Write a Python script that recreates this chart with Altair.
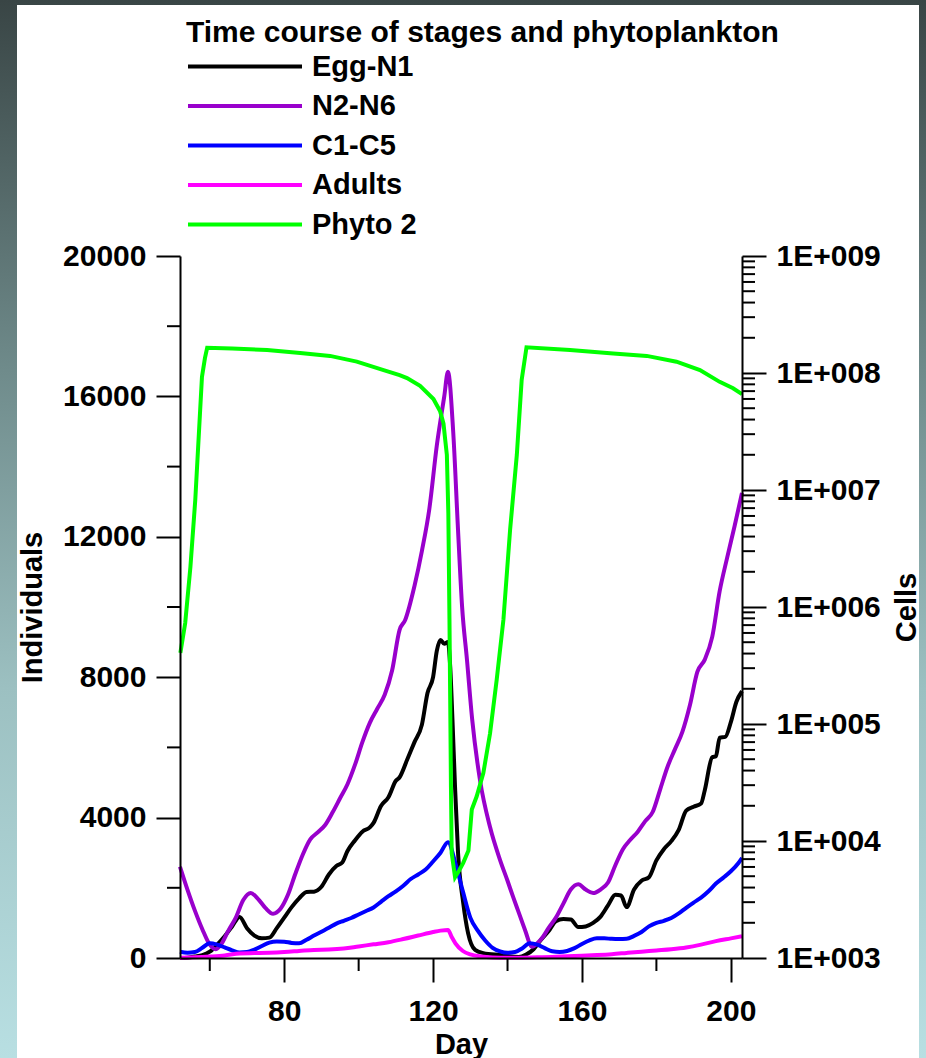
import altair as alt
import pandas as pd

FONT = "Liberation Sans"
TITLE = "Time course of stages and phytoplankton"

SERIES = ["Egg-N1", "N2-N6", "C1-C5", "Adults", "Phyto 2"]
COLORS = ["#000000", "#9900cc", "#0000ff", "#ff00ff", "#00ff00"]

# Egg-N1 (individuals)
egg_day = [52, 54, 56, 58, 60, 62, 64, 66, 68, 70,
           72, 74, 76, 78, 80, 82, 84, 86, 88, 90,
           92, 94, 95.6, 97, 99, 101, 103, 104, 106, 108,
           110, 111, 113, 115, 117, 118.5, 120, 121, 122, 123,
           124, 124.6, 125.2, 125.9, 126.7, 128.1, 129.4, 131.3, 133.5, 138,
           143, 145, 147, 149, 151, 153, 155, 157, 159, 161,
           163, 165, 167, 169, 170.5, 172, 174, 176, 178, 180,
           182, 184, 186, 188, 190, 192, 193, 195, 196, 197,
           198.5, 200, 201.5, 203]
egg_val = [0, 10, 40, 80, 180, 380, 620, 900, 1170, 850,
           640, 560, 580, 850, 1150, 1450, 1700, 1880, 1890, 2030,
           2380, 2620, 2720, 3050, 3350, 3600, 3720, 3850, 4330, 4580,
           5050, 5150, 5640, 6150, 6650, 7550, 8000, 8750, 9060, 8950,
           9000, 8300, 6800, 4870, 3000, 1570, 710, 230, 140, 85,
           30, 100, 250, 520, 760, 1050, 1110, 1100, 880, 900,
           1000, 1180, 1500, 1800, 1780, 1450, 1950, 2200, 2300, 2780,
           3100, 3330, 3650, 4200, 4310, 4400, 4780, 5720, 5750, 6280,
           6300, 6720, 7300, 7600]

# N2-N6 (individuals)
naup_day = [52, 54, 56, 58, 60, 61.5, 63, 65, 67, 69,
            71, 73, 75, 77, 79, 81, 83, 85, 87, 89,
            91, 93, 95, 97, 99, 101, 103, 105, 107, 109,
            111, 112.5, 115, 117, 119, 121, 123, 124, 125.4, 126.7,
            127.8, 129.1, 130.5, 132.6, 135.3, 138, 140, 141.5, 143, 144.7,
            146.6, 148, 149.5, 151, 153, 155, 157, 159, 161, 163,
            165, 167, 169, 171, 173, 175, 177, 179, 181, 183,
            185, 187, 189, 191, 193, 195, 197, 199, 201, 203]
naup_val = [2600, 1950, 1350, 820, 380, 250, 380, 780, 1150, 1650,
            1850, 1680, 1420, 1260, 1400, 1800, 2400, 2950, 3380, 3580,
            3790, 4150, 4550, 4950, 5500, 6150, 6700, 7100, 7500, 8200,
            9350, 9630, 10600, 11600, 12800, 14600, 16000, 16700, 15000, 12200,
            10000, 8500, 6800, 5070, 3730, 2790, 2200, 1740, 1300, 800,
            320, 420, 600, 850, 1150, 1550, 1950, 2100, 1950, 1850,
            1950, 2150, 2650, 3100, 3370, 3600, 3900, 4160, 4800, 5450,
            5950, 6450, 7200, 8150, 8500, 9150, 10450, 11400, 12300, 13250]

# C1-C5 (individuals)
cope_day = [52, 54, 56, 58, 60, 62, 64, 66, 68, 70,
            72, 74, 76, 78, 80, 82, 84, 86, 88, 90,
            92, 94, 96, 98, 100, 102, 104, 106, 108, 110,
            112, 114, 116, 118, 120, 122, 124, 126, 128, 130,
            132, 134, 136, 138, 140, 142, 144, 146, 148, 150,
            152, 154, 156, 158, 160, 162, 164, 166, 168, 170,
            172, 174, 176, 178, 180, 182, 184, 186, 188, 190,
            192, 194, 196, 198, 200, 202, 203]
cope_val = [180, 150, 170, 290, 420, 380, 300, 220, 160, 170,
            240, 340, 440, 470, 465, 430, 420, 520, 640, 750,
            860, 980, 1060, 1140, 1240, 1340, 1440, 1600, 1760, 1900,
            2060, 2250, 2380, 2520, 2750, 3000, 3300, 2700, 1900, 1150,
            780, 500, 290, 190, 150, 170, 280, 420, 380, 280,
            190, 170, 200, 280, 400, 500, 560, 560, 545, 540,
            545, 630, 740, 900, 1000, 1060, 1140, 1270, 1430, 1580,
            1720, 1900, 2120, 2290, 2470, 2700, 2850]

# Adults (individuals)
adult_day = [52, 56, 60, 64, 68, 72, 76, 80, 84, 88,
             92, 96, 100, 104, 108, 112, 116, 120, 122, 124,
             125, 126, 128, 130, 133, 136, 140, 144, 148, 152,
             156, 160, 164, 168, 172, 176, 180, 184, 188, 192,
             196, 200, 203]
adult_val = [10, 20, 40, 70, 130, 140, 150, 170, 200, 230,
             240, 270, 330, 390, 450, 540, 640, 740, 780, 800,
             600, 420, 200, 100, 40, 15, 5, 10, 20, 30,
             50, 65, 85, 110, 145, 180, 215, 250, 300, 380,
             480, 560, 620]

# Phyto 2 (cells, log axis)
phyto_day = [52.1, 53.4, 54.8, 56.1, 57.9, 58.7, 59.3, 66, 75.4, 84.3,
             92.3, 99.5, 106.7, 111, 113, 116.5, 120.1, 121.9, 122.8, 123.2,
             123.7, 124.1, 124.4, 124.6, 124.8, 125, 125.9, 127, 128.1, 129.5,
             130.4, 131.7, 133.5, 135.3, 137.1, 138.9, 140.7, 142.5, 143.8, 145.1,
             156.8, 168.4, 177.4, 185.4, 191.7, 197, 200.6, 203]
phyto_cells = [4.05e5, 7.3e5, 2.2e6, 8.2e6, 9.25e7, 1.34e8, 1.64e8, 1.62e8, 1.57e8, 1.48e8,
               1.40e8, 1.25e8, 1.06e8, 9.6e7, 9.06e7, 7.76e7, 6.0e7, 4.7e7, 3.7e7, 2.8e7,
               2.0e7, 6.3e6, 7.9e5, 1.6e5, 2.9e4, 7.9e3, 4.9e3, 5.6e3, 6.5e3, 8.3e3,
               1.86e4, 2.4e4, 3.8e4, 8.3e4, 2.4e5, 7.8e5, 4.6e6, 2.0e7, 8.7e7, 1.66e8,
               1.57e8, 1.47e8, 1.40e8, 1.25e8, 1.06e8, 8.4e7, 7.4e7, 6.6e7]

# axis tick positions
day_major = [80, 120, 160, 200]
day_minor = [60, 100, 140, 180]
ind_major = [0, 4000, 8000, 12000, 16000, 20000]
ind_minor = [2000, 6000, 10000, 14000, 18000]
cell_major = [1e3, 1e4, 1e5, 1e6, 1e7, 1e8, 1e9]
cell_minor = [k * 10 ** e for e in range(3, 9) for k in range(2, 10)]

W, H = 562, 702

stages = pd.concat([
    pd.DataFrame({"day": egg_day, "value": egg_val, "series": "Egg-N1"}),
    pd.DataFrame({"day": naup_day, "value": naup_val, "series": "N2-N6"}),
    pd.DataFrame({"day": cope_day, "value": cope_val, "series": "C1-C5"}),
    pd.DataFrame({"day": adult_day, "value": adult_val, "series": "Adults"}),
], ignore_index=True)
phyto = pd.DataFrame({"day": phyto_day, "cells": phyto_cells, "series": "Phyto 2"})

x_scale = alt.Scale(domain=[52, 203], nice=False, zero=False)
ind_scale = alt.Scale(domain=[0, 20000], nice=False, zero=False)
cell_scale = alt.Scale(type="log", domain=[1e3, 1e9], nice=False)
color_scale = alt.Scale(domain=SERIES, range=COLORS)

x_axis = alt.Axis(values=day_major, title="Day", tickSize=24, labelPadding=14,
                  titlePadding=4, labelFlush=False, format="d", zindex=1)
left_axis = alt.Axis(values=ind_major, title="Individuals", orient="left",
                     tickSize=24, labelPadding=10, titlePadding=15,
                     labelFlush=False, format="d", zindex=1)
right_axis = alt.Axis(values=cell_major, title="Cells", orient="right",
                      tickSize=24, labelPadding=10, titlePadding=12,
                      labelFlush=False, titleAngle=270, titleBaseline="top",
                      zindex=1,
                      labelExpr="'1E+00' + round(log(datum.value) / LN10)")

legend = alt.Legend(orient="none", legendX=6, legendY=-238, title=TITLE,
                    symbolType="stroke", symbolSize=12996, symbolStrokeWidth=4,
                    clipHeight=29, rowPadding=9.5, labelOffset=8, titlePadding=4,
                    padding=0, titleLimit=900, labelLimit=400, zindex=1)

one = pd.DataFrame({"k": [0]})
backdrop = alt.Chart(one).mark_rect(
    fill=alt.LinearGradient(
        gradient="linear", x1=0, x2=0, y1=0, y2=1,
        stops=[alt.GradientStop(color="#394545", offset=0),
               alt.GradientStop(color="#6f8b8b", offset=0.35),
               alt.GradientStop(color="#9cc0c1", offset=0.65),
               alt.GradientStop(color="#b8dfe2", offset=1)])
).encode(x=alt.value(-180), x2=alt.value(746), y=alt.value(-256), y2=alt.value(802))
panel = alt.Chart(one).mark_rect(fill="white").encode(
    x=alt.value(-163), x2=alt.value(739), y=alt.value(-251), y2=alt.value(802))

stage_lines = alt.Chart(stages).mark_line(strokeWidth=4, interpolate="monotone").encode(
    x=alt.X("day:Q", scale=x_scale, axis=x_axis),
    y=alt.Y("value:Q", scale=ind_scale, axis=left_axis),
    color=alt.Color("series:N", scale=color_scale, legend=legend),
    detail="series:N",
)
# short ticks between the labelled ones; they share the axis definitions
left_minor = alt.Chart(pd.DataFrame({"value": ind_minor})).mark_rule(
    color="black", strokeWidth=2).encode(
    y=alt.Y("value:Q", scale=ind_scale, axis=left_axis),
    x=alt.value(-13), x2=alt.value(0))
bottom_minor = alt.Chart(pd.DataFrame({"day": day_minor})).mark_rule(
    color="black", strokeWidth=2).encode(
    x=alt.X("day:Q", scale=x_scale, axis=x_axis),
    y=alt.value(H), y2=alt.value(H + 13))

phyto_line = alt.Chart(phyto).mark_line(strokeWidth=4).encode(
    x=alt.X("day:Q", scale=x_scale, axis=x_axis),
    y=alt.Y("cells:Q", scale=cell_scale, axis=right_axis),
    color=alt.Color("series:N", scale=color_scale, legend=None),
)
right_minor = alt.Chart(pd.DataFrame({"cells": cell_minor})).mark_rule(
    color="black", strokeWidth=2).encode(
    y=alt.Y("cells:Q", scale=cell_scale, axis=right_axis),
    x=alt.value(W), x2=alt.value(W + 13))

left_group = alt.layer(stage_lines, left_minor, bottom_minor)
right_group = alt.layer(phyto_line, right_minor)

chart = alt.layer(backdrop, panel, left_group, right_group).resolve_scale(
    y="independent"
).properties(
    width=W, height=H,
    padding={"left": 180, "top": 256, "right": 184, "bottom": 100},
    autosize=alt.AutoSizeParams(type="none"),
    background="white",
).configure_view(stroke=None).configure_axis(
    grid=False, domainColor="black", domainWidth=2, tickColor="black", tickWidth=2,
    labelFont=FONT, labelFontSize=30, labelFontWeight="bold", labelColor="black",
    titleFont=FONT, titleFontSize=29, titleFontWeight="bold", titleColor="black",
).configure_legend(
    labelFont=FONT, labelFontSize=29, labelFontWeight="bold", labelColor="black",
    titleFont=FONT, titleFontSize=30, titleFontWeight="bold", titleColor="black",
)

chart.save("out.html", embed_options={"renderer": "svg", "actions": False})
